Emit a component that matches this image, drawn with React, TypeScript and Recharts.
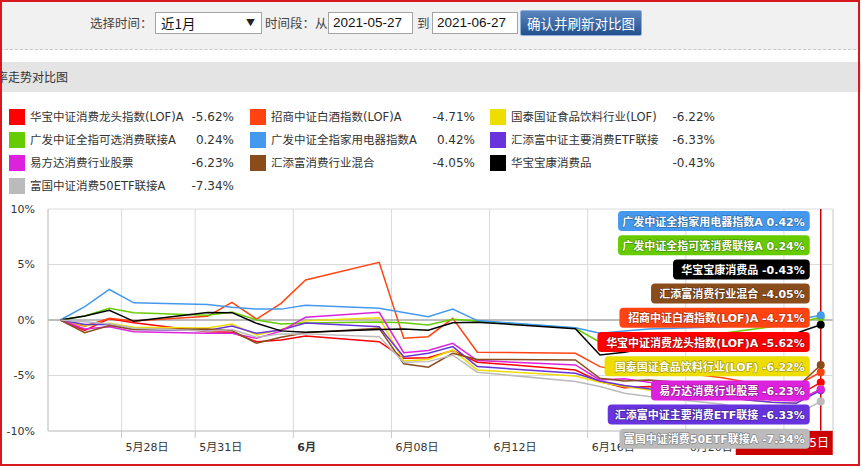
import React from 'react';
import { LineChart, Line, XAxis, YAxis, CartesianGrid, ReferenceLine } from 'recharts';

// 交易日（横轴按自然日刻度）
const tradeDates = [
  '2021-05-25', '2021-05-26', '2021-05-27', '2021-05-28', '2021-05-31', '2021-06-01',
  '2021-06-02', '2021-06-03', '2021-06-04', '2021-06-07', '2021-06-08', '2021-06-09',
  '2021-06-10', '2021-06-11', '2021-06-15', '2021-06-16', '2021-06-17', '2021-06-18',
  '2021-06-21', '2021-06-22', '2021-06-23', '2021-06-24', '2021-06-25',
];

// 各基金累计收益率 (%)
const huabaoLongtou = [0, -0.95, 0.12, -0.25, -1.05, -1.1, -1.95, -1.8, -1.45, -1.95, -3.45, -3.4, -2.75, -3.8, -4.5, -5.55, -6.1, -6.0, -6.5, -6.8, -6.9, -6.9, -5.62];
const zhaoshangBaijiu = [0, -0.55, 0.15, -0.1, 0.33, 1.58, 0.08, 1.5, 3.6, 5.2, -1.65, -1.5, 0.15, -2.9, -3.0, -4.2, -4.6, -4.4, -5.2, -5.6, -5.9, -5.9, -4.71];
const guotaiShipin = [0, -0.5, -0.3, -0.65, -0.72, -0.36, -1.35, -0.85, -0.06, 0.2, -3.7, -3.55, -2.7, -4.5, -5.05, -5.6, -6.0, -6.3, -6.9, -7.2, -7.4, -7.5, -6.22];
const guangfaKexuan = [0, 0.36, 1.05, 0.65, 0.42, 0.72, 0.0, -0.36, -0.27, -0.18, -0.24, -0.45, 0.06, -0.1, -0.75, -2.0, -1.8, -1.5, -1.2, -0.9, -0.6, -0.3, 0.24];
const guangfaJiadian = [0, 1.2, 2.75, 1.55, 1.4, 1.15, 0.98, 0.98, 1.33, 1.05, 0.68, 0.3, 0.98, -0.05, -0.7, -1.2, -1.0, -0.8, -0.6, -0.4, -0.2, 0.0, 0.42];
const huitianfuZhuyao = [0, -0.4, -0.38, -0.85, -0.95, -0.54, -1.2, -0.9, -0.27, -0.6, -3.3, -3.0, -2.4, -4.2, -4.8, -5.5, -5.9, -6.2, -6.9, -7.2, -7.4, -7.5, -6.33];
const yifangdaXiaofei = [0, -0.8, -0.6, -1.05, -1.2, -1.2, -1.65, -1.0, 0.24, 0.69, -2.95, -2.75, -2.1, -3.65, -4.05, -5.4, -5.3, -5.6, -6.4, -6.9, -7.2, -7.3, -6.23];
const huitianfuHunhe = [0, -1.15, -0.5, -0.85, -0.82, -0.95, -2.1, -1.55, -1.14, -0.75, -3.95, -4.25, -3.0, -3.55, -3.6, -5.25, -5.5, -5.4, -5.9, -6.2, -6.3, -6.1, -4.05];
const huabaoBaokang = [0, 0.36, 0.87, -0.12, 0.68, 0.66, -0.3, -0.98, -1.1, -0.85, -0.8, -0.92, -0.25, -0.2, -0.78, -3.15, -2.9, -2.5, -2.0, -1.7, -1.4, -1.2, -0.43];
const fuguoXiaofei50 = [0, -0.15, -0.35, -0.75, -1.0, -0.85, -1.55, -1.25, -1.25, -1.5, -3.8, -3.75, -3.15, -4.7, -5.55, -6.0, -6.6, -6.9, -7.6, -8.1, -8.4, -8.5, -7.34];

const fundNames = [
  '华宝中证消费龙头指数(LOF)A', '招商中证白酒指数(LOF)A', '国泰国证食品饮料行业(LOF)',
  '广发中证全指可选消费联接A', '广发中证全指家用电器指数A', '汇添富中证主要消费ETF联接',
  '易方达消费行业股票', '汇添富消费行业混合', '华宝宝康消费品',
  '富国中证消费50ETF联接A',
];
const fundColors = ['#ff0000', '#ff4411', '#eedd00', '#66cc00', '#4499ee', '#6633dd', '#dd22dd', '#8b4c1c', '#000000', '#bbbbbb'];
const fundSeries = [huabaoLongtou, zhaoshangBaijiu, guotaiShipin, guangfaKexuan, guangfaJiadian, huitianfuZhuyao, yifangdaXiaofei, huitianfuHunhe, huabaoBaokang, fuguoXiaofei50];

const tickDates = ['2021-05-28', '2021-05-31', '2021-06-04', '2021-06-08', '2021-06-12', '2021-06-16', '2021-06-20', '2021-06-24'];
const tickLabels = ['5月28日', '5月31日', '6月', '6月08日', '6月12日', '6月16日', '6月20日', '6月24日'];
const yTicks = [-10, -5, 0, 5, 10];
const axisStart = '2021-05-25';
const axisEnd = '2021-06-26';

const DAY = 86400000;
const dayOf = (d: string) => (Date.parse(d) - Date.parse(axisStart)) / DAY;

const chartData = tradeDates.map((d, i) => {
  const row: Record<string, number> = { day: dayOf(d) + 0.5 };
  fundSeries.forEach((s, k) => {
    row['s' + k] = s[i];
  });
  return row;
});

const lastIndex = tradeDates.length - 1;
const lastDay = dayOf(tradeDates[lastIndex]) + 0.5;
const tickPositions = tickDates.map(dayOf);
const lastDate = tradeDates[lastIndex].split('-');
const crossLabel = `${lastDate[0]}年${Number(lastDate[1])}月${Number(lastDate[2])}日`;

const finalValue = (k: number) => fundSeries[k][lastIndex];
const labelOrder = fundSeries.map((_, k) => k).sort((a, b) => finalValue(b) - finalValue(a));

const sans = '"DejaVu Sans", "Noto Sans CJK SC", sans-serif';
const cjk = '"Noto Sans CJK SC", "DejaVu Sans", sans-serif';

const estWidth = (s: string) =>
  Array.from(s).reduce((w, c) => w + (/[\u4e00-\u9fff]/.test(c) ? 11 : 7.1), 0);

const XTick = (props: any) => {
  const { x, y, payload } = props;
  const i = tickPositions.indexOf(payload.value);
  const label = tickLabels[i] ?? '';
  return (
    <text x={x + 4} y={y + 11} fontSize={11} fontFamily={sans} fill="#333"
      fontWeight={label === '6月' ? 'bold' : 'normal'} textAnchor="start">
      {label}
    </text>
  );
};

const YTick = (props: any) => {
  const { x, y, payload } = props;
  return (
    <text x={x} y={y} dy="0.35em" fontSize={11} fontFamily={sans} fill="#333" textAnchor="end">
      {payload.value}%
    </text>
  );
};

const makeDot = (color: string, k: number) => (p: any) => (
  <circle key={`dot-${k}-${p.index}`} cx={p.cx} cy={p.cy} r={p.index === lastIndex ? 4 : 0} fill={color} stroke="none" />
);

const renderEndLabels = (props: any) => {
  if (props.index !== lastIndex) return null;
  const px = props.viewBox?.x ?? props.x;
  if (px == null) return null;
  const right = px - 11;
  return (
    <g>
      <rect x={px - 85} y={231} width={97} height={24} fill="#cc0000" />
      <text x={px - 36.5} y={247} textAnchor="middle" fill="#fff" fontSize={12} fontFamily={sans}>
        {crossLabel}
      </text>
      {labelOrder.map((k, slot) => {
        const text = `${fundNames[k]} ${finalValue(k).toFixed(2)}%`;
        const w = estWidth(text) + 10;
        const top = 11 + slot * 24.2;
        return (
          <g key={`lab-${k}`}>
            <rect x={right - w} y={top} width={w} height={20} rx={4} ry={4} fill={fundColors[k]} />
            <text x={right - 5} y={top + 14.5} textAnchor="end" fontSize={11} fontWeight="bold"
              fontFamily={sans} fill="#fff" stroke="rgba(0,0,0,0.28)" strokeWidth={1.6}
              strokeLinejoin="round" style={{ paintOrder: 'stroke' }}>
              {text}
            </text>
          </g>
        );
      })}
    </g>
  );
};

function TopBar() {
  const label: React.CSSProperties = { position: 'absolute', top: 12, lineHeight: '22px', fontSize: 12.5, color: '#444', fontFamily: cjk };
  const box: React.CSSProperties = {
    position: 'absolute', top: 12, height: 22, boxSizing: 'border-box', border: '1px solid #a4a4a4',
    background: '#fff', fontSize: 13.5, lineHeight: '20px', fontFamily: '"Liberation Sans", "Noto Sans CJK SC", sans-serif', color: '#111',
  };
  return (
    <>
      <div style={{ position: 'absolute', left: 0, top: 0, width: 861, height: 49, background: '#f1f1f1', borderBottom: '1px dashed #c8c8c8' }} />
      <div style={{ ...label, left: 90 }}>选择时间：</div>
      <div style={{ ...box, left: 155, width: 107, paddingLeft: 5, fontFamily: cjk, fontSize: 13.5 }}>
        近1月
        <span style={{ position: 'absolute', right: 6, top: 0, fontSize: 9, color: '#222' }}>▼</span>
      </div>
      <div style={{ ...label, left: 265 }}>时间段：从</div>
      <div style={{ ...box, left: 328, width: 85, paddingLeft: 4 }}>2021-05-27</div>
      <div style={{ ...label, left: 417 }}>到</div>
      <div style={{ ...box, left: 432, width: 86, paddingLeft: 4 }}>2021-06-27</div>
      <div style={{
        position: 'absolute', left: 520, top: 10, width: 122, height: 26, boxSizing: 'border-box',
        border: '1px solid #8fb0dc', borderRadius: 2, background: 'linear-gradient(#5b87bf, #22508c)',
        color: '#fff', fontSize: 13.5, lineHeight: '24px', textAlign: 'center', fontFamily: cjk,
      }}>
        确认并刷新对比图
      </div>
      <div style={{ position: 'absolute', left: 0, top: 62, width: 861, height: 30, background: '#e4e4e4', overflow: 'hidden' }}>
        <div style={{ position: 'absolute', left: -28, top: 0, lineHeight: '30px', fontSize: 12, color: '#333', fontFamily: cjk, whiteSpace: 'nowrap' }}>
          收益率走势对比图
        </div>
      </div>
    </>
  );
}

function FundLegend() {
  const swatchLeft = [9, 250, 490];
  const valueRight = [234, 475, 715];
  return (
    <>
      {fundNames.map((name, k) => {
        const col = k % 3;
        const row = Math.floor(k / 3);
        const top = 109 + row * 23;
        return (
          <React.Fragment key={name}>
            <div style={{ position: 'absolute', left: swatchLeft[col], top, width: 16, height: 16, background: fundColors[k] }} />
            <div style={{ position: 'absolute', left: swatchLeft[col] + 21, top: top - 2, lineHeight: '20px', fontSize: 11.5, color: '#333', fontFamily: sans, whiteSpace: 'nowrap' }}>
              {name}
            </div>
            <div style={{ position: 'absolute', right: 861 - valueRight[col], top: top - 2, lineHeight: '20px', fontSize: 12, color: '#333', fontFamily: sans, whiteSpace: 'nowrap' }}>
              {finalValue(k).toFixed(2)}%
            </div>
          </React.Fragment>
        );
      })}
    </>
  );
}

export default function App() {
  return (
    <div style={{ position: 'absolute', left: 0, top: 0, width: 861, height: 468, overflow: 'hidden', background: '#fff' }}>
      <TopBar />
      <FundLegend />
      <div style={{ position: 'absolute', left: 0, top: 200, width: 861, height: 268 }}>
        <LineChart width={861} height={268} data={chartData} margin={{ top: 9, right: 28, bottom: 0, left: 0 }}>
          <CartesianGrid stroke="#dadada" />
          <ReferenceLine y={0} stroke="#8c8c8c" />
          <ReferenceLine x={dayOf(axisEnd)} stroke="#dadada" />
          <ReferenceLine x={lastDay} stroke="#cc0000" strokeWidth={1.5} />
          <XAxis type="number" dataKey="day" domain={[0, dayOf(axisEnd)]} ticks={tickPositions} interval={0}
            tick={<XTick />} tickSize={7} tickLine={{ stroke: '#c8c8c8' }} axisLine={{ stroke: '#c8c8c8' }} height={37} />
          <YAxis type="number" domain={[-10, 10]} ticks={yTicks} width={48} tick={<YTick />}
            tickSize={0} tickMargin={13} tickLine={false} axisLine={{ stroke: '#c8c8c8' }} />
          {fundSeries.map((_, k) => (
            <Line key={k} type="linear" dataKey={'s' + k} stroke={fundColors[k]} strokeWidth={1.5}
              dot={makeDot(fundColors[k], k)} activeDot={false} isAnimationActive={false} />
          ))}
          <Line type="linear" dataKey={'s' + (fundSeries.length - 1)} stroke="none" dot={false} activeDot={false}
            label={renderEndLabels} isAnimationActive={false} />
        </LineChart>
      </div>
      <div style={{ position: 'absolute', left: 0, top: 0, width: 860, height: 466, boxSizing: 'border-box', border: '2px solid #d8181e', pointerEvents: 'none' }} />
    </div>
  );
}
